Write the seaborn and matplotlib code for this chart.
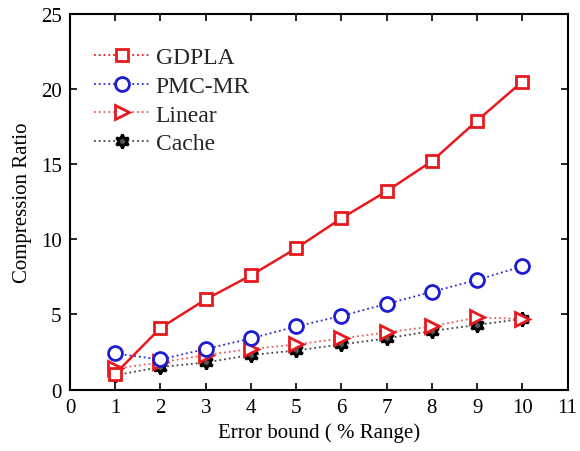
import matplotlib
matplotlib.use("Agg")
import matplotlib.pyplot as plt
from matplotlib.lines import Line2D
import seaborn as sns
import pandas as pd

error_bound = [1, 2, 3, 4, 5, 6, 7, 8, 9, 10]
gdpla = [1.05, 4.1, 6.0, 7.6, 9.4, 11.4, 13.2, 15.2, 17.9, 20.5]
pmc_mr = [2.4, 2.0, 2.7, 3.4, 4.2, 4.9, 5.7, 6.5, 7.3, 8.2]
linear = [1.4, 1.8, 2.3, 2.7, 3.0, 3.4, 3.8, 4.2, 4.8, 4.7]
cache = [0.95, 1.5, 1.8, 2.3, 2.6, 3.0, 3.4, 3.9, 4.3, 4.7]
series_names = ["GDPLA", "PMC-MR", "Linear", "Cache"]
x_ticks = list(range(0, 12))
y_ticks = [0, 5, 10, 15, 20, 25]

sns.set_theme(style="white")
plt.rcParams['font.family'] = ['Liberation Serif', 'DejaVu Serif']

fig = plt.figure(figsize=(5.8, 4.52), dpi=100)
ax = fig.add_axes([0.1207, 0.136, 0.858, 0.831])

styles = {
    "GDPLA": dict(color="#e8191e", marker="s", ls="-", lw=1.8, ms=9, mec="#e8191e", mfc="white"),
    "PMC-MR": dict(color="#2a2ad0", marker="o", ls=":", lw=1.3, ms=10, mec="#1c1cd0", mfc="white"),
    "Linear": dict(color="#e86060", marker=">", ls=":", lw=1.3, ms=10, mec="#e8191e", mfc="white"),
    "Cache": dict(color="#444444", marker=(6, 1, 0), ls=":", lw=1.3, ms=10, mec="black", mfc="#555555"),
}
data = {"GDPLA": gdpla, "PMC-MR": pmc_mr, "Linear": linear, "Cache": cache}

for name in ["Cache", "Linear", "PMC-MR", "GDPLA"]:
    st = styles[name]
    df = pd.DataFrame({"x": error_bound, "y": data[name]})
    sns.lineplot(data=df, x="x", y="y", ax=ax, color=st["color"], marker=st["marker"],
                 linestyle=st["ls"], linewidth=st["lw"], markersize=st["ms"],
                 markeredgecolor=st["mec"], markerfacecolor=st["mfc"], markeredgewidth=2,
                 legend=False)

handles = []
for name in series_names:
    st = styles[name]
    handles.append(Line2D([0], [0], color=st["color"], marker=st["marker"], linestyle=":",
                          linewidth=1.3, markersize=st["ms"], markeredgecolor=st["mec"],
                          markerfacecolor=st["mfc"], markeredgewidth=2))
ax.legend(handles, series_names, loc="upper left", bbox_to_anchor=(0.02, 0.95),
          frameon=False, fontsize=17, handlelength=2.4, handletextpad=0.2,
          labelspacing=0.3, borderaxespad=0.2)

ax.set_xlim(0, 11)
ax.set_ylim(0, 25)
ax.set_xticks(x_ticks)
ax.set_yticks(y_ticks)
ax.tick_params(direction="in", top=True, right=True, length=5, width=1.2,
               labelsize=15, colors="black", pad=6, bottom=True, left=True)
for s in ax.spines.values():
    s.set_color("black")
    s.set_linewidth(1.5)
ax.set_xlabel("Error bound ( % Range)", fontsize=15, color="black", labelpad=4)
ax.set_ylabel("Compression Ratio", fontsize=15, color="black", labelpad=6)

fig.savefig("out.png", dpi=100)
